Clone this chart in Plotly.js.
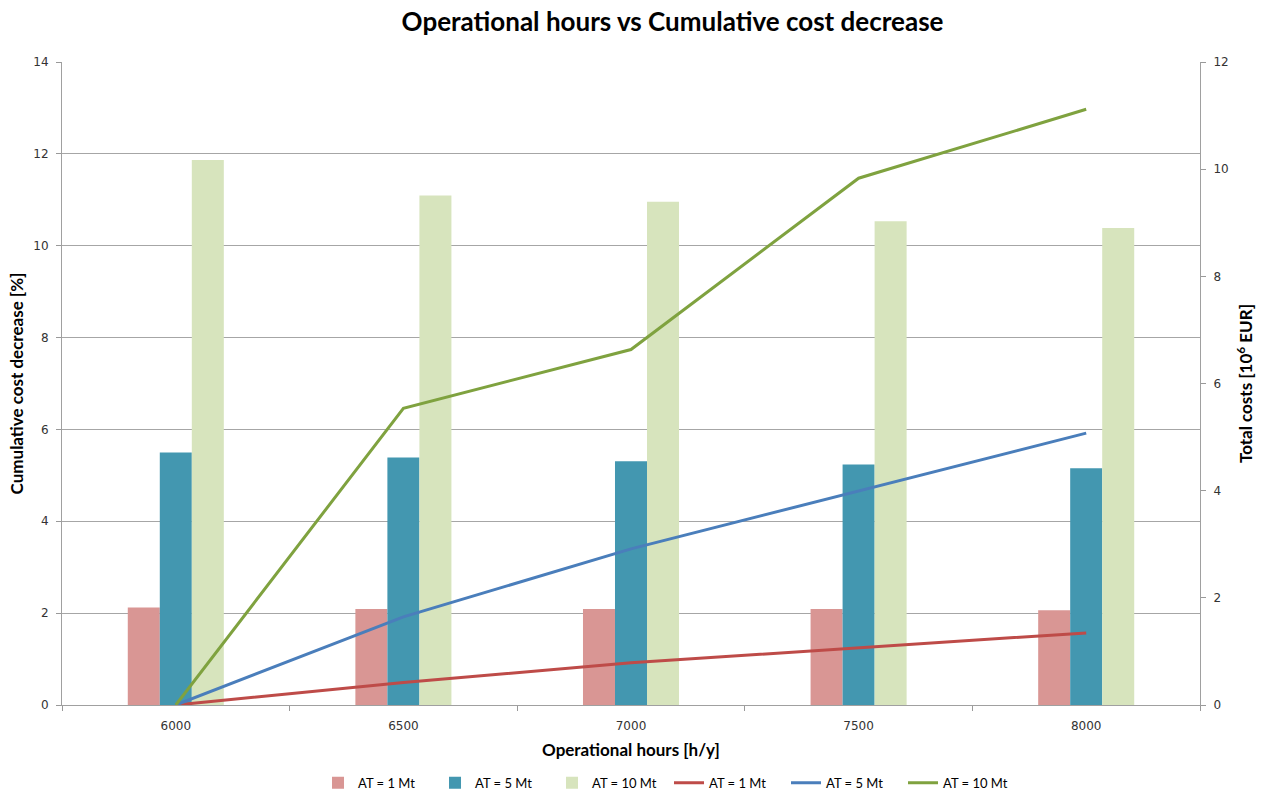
<!DOCTYPE html>
<html>
<head>
<meta charset="utf-8">
<script src="https://cdn.plot.ly/plotly-3.0.1.min.js"></script>
<style>html,body{margin:0;padding:0;background:#fff;}#chart{width:1263px;height:794px;}</style>
</head>
<body>
<div id="chart"></div>
<script>
const hours = ["6000", "6500", "7000", "7500", "8000"];
const seriesNames = ["AT = 1 Mt", "AT = 5 Mt", "AT = 10 Mt"];
// Total costs [10^6 EUR] (bars, right axis)
const cost1 = [1.82, 1.79, 1.79, 1.79, 1.77];
const cost5 = [4.71, 4.62, 4.55, 4.49, 4.42];
const cost10 = [10.17, 9.51, 9.39, 9.03, 8.90];
// Cumulative cost decrease [%] (lines, left axis)
const dec1 = [0, 0.49, 0.92, 1.24, 1.57];
const dec5 = [0, 1.92, 3.40, 4.66, 5.92];
const dec10 = [0, 6.46, 7.74, 11.47, 12.97];

const barColors = ["#d99694", "#4397b0", "#d7e4bd"];
const lineColors = ["#be4b48", "#4a7ebb", "#7fa23f"];

const costs = [cost1, cost5, cost10];
const decs = [dec1, dec5, dec10];

const traces = [];
costs.forEach((c, i) => traces.push({
  type: "bar", x: hours, y: c, name: seriesNames[i], yaxis: "y",
  marker: {color: barColors[i], line: {width: 0}}
}));
decs.forEach((d, i) => traces.push({
  type: "scatter", mode: "lines", x: hours, y: d, name: seriesNames[i], yaxis: "y2",
  line: {color: lineColors[i], width: 3}
}));

const tickFont = {family: "DejaVu Sans, Verdana, sans-serif", size: 12, color: "#333"};
const titleFont = {family: "Lato, Open Sans, sans-serif", size: 17, color: "#000", weight: "bold"};

const layout = {
  width: 1263, height: 794,
  margin: {l: 62, r: 63, t: 62, b: 89, autoexpand: false},
  paper_bgcolor: "#fff", plot_bgcolor: "rgba(0,0,0,0)",
  showlegend: true,
  barmode: "group", bargap: 0.578, bargroupgap: 0,
  title: {
    text: "Operational hours vs Cumulative cost decrease",
    font: {family: "Lato, Open Sans, sans-serif", size: 26, color: "#000", weight: "bold"},
    x: 0.5365, xanchor: "center", y: 0.972, yanchor: "middle", xref: "paper"
  },
  xaxis: {
    type: "category", tickson: "boundaries",
    ticks: "outside", ticklen: 5, tickcolor: "#999",
    showline: true, linecolor: "#a0a0a0", linewidth: 1, mirror: false,
    showgrid: false, tickfont: tickFont, ticklabelstandoff: 10, automargin: false,
    title: {text: "Operational hours [h/y]", font: titleFont, standoff: 11}
  },
  yaxis: {
    side: "right", range: [0, 12], dtick: 2, tick0: 0,
    ticks: "outside", ticklen: 5, tickcolor: "#999",
    showline: true, linecolor: "#a0a0a0", linewidth: 1,
    showgrid: false, zeroline: false, tickfont: tickFont, ticklabelstandoff: 5, automargin: false,
    title: {text: "Total costs [10<sup>6</sup> EUR]", font: titleFont, standoff: 12}
  },
  yaxis2: {
    overlaying: "y", side: "left", range: [0, 14], dtick: 2, tick0: 0,
    ticks: "outside", ticklen: 5, tickcolor: "#999",
    showline: true, linecolor: "#a0a0a0", linewidth: 1,
    showgrid: true, gridcolor: "#a6a6a6", gridwidth: 1, zeroline: false,
    tickfont: tickFont, ticklabelstandoff: 5, automargin: false,
    title: {text: "Cumulative cost decrease [%]", font: titleFont, standoff: 5}
  },
  legend: {
    orientation: "h", x: 0.5334, xanchor: "center", y: -0.121, yanchor: "middle",
    font: {family: "Lato, Open Sans, sans-serif", size: 13, color: "#000"},
    entrywidth: 72, entrywidthmode: "pixels", traceorder: "normal"
  }
};

Plotly.newPlot("chart", traces, layout, {displayModeBar: false, staticPlot: true});
</script>
</body>
</html>
